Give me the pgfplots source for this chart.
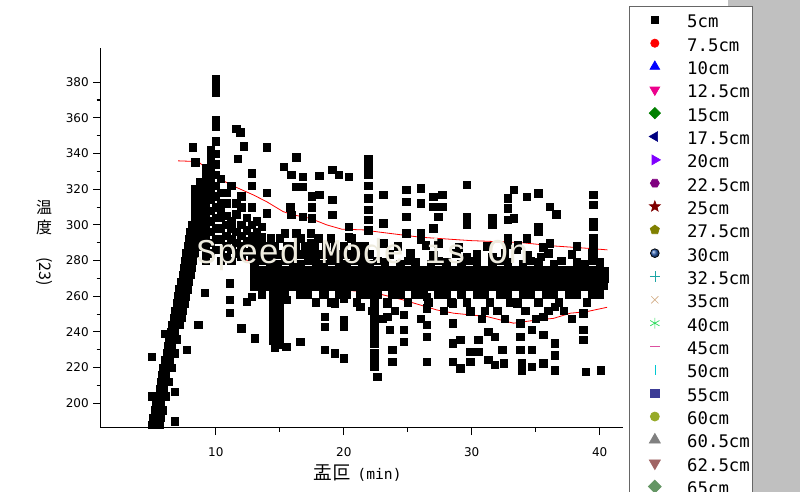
\documentclass[border=0pt]{standalone}
\usepackage{fontspec}
\usepackage{pgfplots}
\pgfplotsset{compat=1.18}
\usetikzlibrary{plotmarks}
\setmainfont{DejaVu Sans}
\newfontfamily\cjk{Noto Sans CJK JP}
\newfontfamily\mono{DejaVu Sans Mono}
\newfontfamily\wmk{Liberation Mono}
\pgfdeclarelayer{background}
\pgfsetlayers{background,main}
\newcommand\ls{\rule[-4pt]{0pt}{17.5pt}}
\definecolor{bggray}{RGB}{192,192,192}
\definecolor{wmcol}{RGB}{238,235,222}
\definecolor{cviolet}{RGB}{128,0,255}
\definecolor{cpurple}{RGB}{128,0,128}
\definecolor{cdred}{RGB}{128,0,0}
\definecolor{colive}{RGB}{128,128,0}
\definecolor{cball}{RGB}{40,90,170}
\definecolor{cteal}{RGB}{30,165,165}
\definecolor{ctan}{RGB}{210,172,132}
\definecolor{clgreen}{RGB}{40,220,90}
\definecolor{cpink}{RGB}{220,80,160}
\definecolor{ccyan}{RGB}{0,200,210}
\definecolor{cslate}{RGB}{60,60,150}
\definecolor{cyg}{RGB}{150,170,40}
\definecolor{cgray}{RGB}{128,128,128}
\definecolor{crosy}{RGB}{160,100,100}
\definecolor{cgg}{RGB}{100,150,100}
\pgfdeclareplotmark{hexagon*}{%
  \pgfpathmoveto{\pgfqpointpolar{0}{\pgfplotmarksize}}%
  \pgfpathlineto{\pgfqpointpolar{60}{\pgfplotmarksize}}%
  \pgfpathlineto{\pgfqpointpolar{120}{\pgfplotmarksize}}%
  \pgfpathlineto{\pgfqpointpolar{180}{\pgfplotmarksize}}%
  \pgfpathlineto{\pgfqpointpolar{240}{\pgfplotmarksize}}%
  \pgfpathlineto{\pgfqpointpolar{300}{\pgfplotmarksize}}%
  \pgfpathclose\pgfusepathqfillstroke}
\pgfdeclareplotmark{fstar}{%
  \pgfpathmoveto{\pgfqpointpolar{90}{\pgfplotmarksize}}%
  \pgfpathlineto{\pgfqpointpolar{126}{0.42\pgfplotmarksize}}%
  \pgfpathlineto{\pgfqpointpolar{162}{\pgfplotmarksize}}%
  \pgfpathlineto{\pgfqpointpolar{198}{0.42\pgfplotmarksize}}%
  \pgfpathlineto{\pgfqpointpolar{234}{\pgfplotmarksize}}%
  \pgfpathlineto{\pgfqpointpolar{270}{0.42\pgfplotmarksize}}%
  \pgfpathlineto{\pgfqpointpolar{306}{\pgfplotmarksize}}%
  \pgfpathlineto{\pgfqpointpolar{342}{0.42\pgfplotmarksize}}%
  \pgfpathlineto{\pgfqpointpolar{18}{\pgfplotmarksize}}%
  \pgfpathlineto{\pgfqpointpolar{54}{0.42\pgfplotmarksize}}%
  \pgfpathclose\pgfusepathqfillstroke}
\begin{document}
\begin{tikzpicture}[x=0.75pt,y=0.75pt]
\begin{axis}[
  width=391.5pt, height=284.55pt, scale only axis,
  xmin=1.0, xmax=41.8, ymin=186.3, ymax=399,
  axis lines*=left,
  axis line style={line width=1.1pt},
  xtick={10,20,30,40}, ytick={200,220,...,380},
  minor x tick num=1, minor y tick num=1,
  tick align=outside,
  major tick length=5.5pt, minor tick length=3pt,
  tick style={black, line width=0.8pt},
  tick label style={font=\fontsize{9}{10}\selectfont},
  /pgf/number format/assume math mode=true,
  xticklabel style={yshift=-6pt},
  xlabel={{\cjk\fontsize{14}{16}\selectfont 盂叵}\hspace{5pt}{\mono\fontsize{11}{12}\selectfont(min)}},
  ylabel={温\\度\\[3pt]\rotatebox{-90}{(23)}},
  every axis x label/.style={at={(axis description cs:0.492,-0.1194)}, anchor=center},
  every axis y label/.style={at={(axis description cs:-0.1086,0.487)}, anchor=center, align=center, font=\cjk\fontsize{12}{15}\selectfont},
  legend style={at={(axis description cs:1.0121,1.1123)}, anchor=north west,
    draw=black!60, line width=0.75pt, fill=white,
    inner xsep=2pt, inner ysep=2.75pt, row sep=2.5pt, column sep=0pt,
    nodes={inner sep=0pt, outer sep=0pt},
    font={\mono\fontsize{13}{15}\selectfont}},
  legend cell align=left,
  legend image code/.code={\path[draw=none,fill=none] (0pt,0pt) -- (41.3pt,0pt); \draw[#1, line width=0.5pt] plot coordinates {(17pt,0pt)};},
]
\coordinate (sw) at (rel axis cs:0,0);
\addplot[only marks, mark=square*, mark size=2.8pt, black] coordinates {
(5.0,188)(5.3,188)(5.6,188)(5.1,192)(5.4,192)(5.7,192)(5.25,196)(5.55,196)(5.85,196)
(5.35,200)(5.65,200)(5.45,204)(5.75,204)(6.05,204)(5.6,208)(5.9,208)
(5.7,212)(6.0,212)(6.3,212)(5.8,216)(6.1,216)(5.9,220)(6.2,220)(6.5,220)
(6.05,224)(6.35,224)(6.15,228)(6.45,228)(6.75,228)(6.25,232)(6.55,232)
(6.35,236)(6.65,236)(6.95,236)(6.5,240)(6.8,240)(6.6,244)(6.9,244)(7.2,244)
(6.7,248)(7.0,248)(7.3,248)(6.8,252)(7.1,252)(7.4,252)(6.95,256)(7.25,256)(7.55,256)
(7.05,260)(7.35,260)(7.65,260)(7.15,264)(7.45,264)(7.75,264)(7.25,268)(7.55,268)(7.85,268)
(7.4,272)(7.7,272)(8.0,272)(7.5,276)(7.8,276)(8.1,276)(7.6,280)(7.9,280)(8.2,280)
(7.7,284)(8.0,284)(8.3,284)(7.8,288)(8.1,288)(8.4,288)(7.9,292)(8.2,292)(8.5,292)
(8.0,296)(8.3,296)(8.6,296)(8.1,300)(8.4,300)(8.7,300)
(4.98,226)(4.98,204)(6.8,190)(6.02,239)(6.02,220.5)(6.8,206.5)(7.72,230)(8.63,244)(9.15,262)
(8.4,304)(8.4,308)(8.4,312)(8.4,316)(8.4,320)
(8.8,288)(8.8,292)(8.8,296)(8.8,300)(8.8,304)(8.8,308)(8.8,312)(8.8,316)(8.8,320)(8.8,324)
(9.2,280)(9.2,284)(9.2,288)(9.2,292)(9.2,296)(9.2,300)(9.2,304)(9.2,308)(9.2,312)(9.2,316)(9.2,320)(9.2,324)(9.2,328)(9.2,332)
(9.6,284)(9.6,290)(9.6,296)(9.6,302)(9.6,308)(9.6,314)(9.6,318)(9.6,322)(9.6,326)(9.6,330)(9.6,334)(9.6,338)(9.6,342)
(10.0,286)(10.0,292)(10.0,298)(10.0,304)(10.0,310)(10.0,316)(10.0,322)(10.0,328)(10.0,334)(10.0,340)(10.0,347)(10.0,355)(10.0,359)(10.0,374)(10.0,378)(10.0,382)
(10.4,280)(10.4,286)(10.4,292)(10.4,298)(10.4,304)(10.4,308)(10.4,312)(10.4,318)(10.4,326)
(10.8,282)(10.8,288)(10.8,294)(10.8,300)(10.8,305)(10.8,312)(10.8,318)
(11.2,280)(11.2,286)(11.2,292)(11.2,298)(11.2,302)(11.2,322)
(11.6,284)(11.6,290)(11.6,296)(11.6,306)(11.6,312)
(12.0,282)(12.0,288)(12.0,294)(12.0,300)(12.0,310)(12.0,316)
(12.4,285)(12.4,291)(12.4,297)(12.4,304)
(12.8,282)(12.8,288)(12.8,294)(12.8,300)(12.8,310)
(13.2,284)(13.2,290)(13.2,296)(13.2,302)
(13.6,281)(13.6,287)(13.6,293)(13.6,299)
(8.2,343.5)(8.4,335)(11.6,354)(11.9,352)(12.2,344)(11.7,337)(12.8,329)(12.8,322)(14.0,343.5)(14.0,318)(14.0,306.5)
(16.3,338)(15.3,332.7)(15.9,328)(16.8,327)(16.8,321.5)(16.3,321.5)(18.1,327.5)(17.5,316)(18.1,317)(17.5,310)
(19.1,331)(19.6,328)(20.4,327)(19.1,314)(19.1,305.6)(20.4,299)(20.4,293.4)
(21.9,337)(21.9,332.7)(21.9,328)(21.9,322)(21.9,315)(21.9,308.4)(21.9,302.8)(21.9,297)
(15.8,310)(15.9,305.6)(16.8,304.6)(17.5,303.7)(15.4,295.3)(16.3,295.3)(17.4,295.3)(17.4,289.7)
(13.0,283.5)(13.6,283.5)(14.2,283.5)(14.8,283.5)(15.4,283.5)(16.0,283.5)(16.6,283.5)(17.2,283.5)(17.8,283.5)(18.4,283.5)(19.0,283.5)(19.6,283.5)(20.2,283.5)(20.8,283.5)(21.4,283.5)(22.0,283.5)
(23.6,283.5)(25.2,284)(27.0,283)(28.8,284)(30.4,283.5)(32.6,284)(34.4,283)(36.0,284)(37.8,283.5)(39.4,284)
(13.3,288)(14.0,288)(14.6,288)(15.6,288)(16.2,288)(17.0,288)(17.7,288)(18.6,288)(19.3,288)(20.0,288)(20.9,288)(21.6,288)
(24.2,288)(26.4,288.5)(29.0,287.5)(31.2,288)(33.6,288.5)(35.6,287.5)(38.2,288)
(13.0,292.5)(14.3,292.5)(15.0,292.5)(16.6,292.5)(18.0,292.5)(19.0,292.5)(20.6,292.5)
(13.0,279)(13.6,280)(14.2,279)(14.8,278)(15.4,280)(16.0,279)(16.6,278)(17.2,280)(17.8,279)(18.4,278)(19.0,280)(19.6,279)(20.2,278)(20.8,280)(21.4,279)(22.0,278)(22.6,280)(23.2,279)(24.4,278)(25.0,280)(25.6,279)(26.8,278)(27.4,280)(28.0,279)(29.2,278)(29.8,280)(30.4,279)(31.6,278)(32.2,280)(32.8,279)(34.0,278)(34.6,280)(35.2,279)(36.4,278)(37.0,280)(38.2,279)(38.8,278)(39.4,280)(40.0,279)
(13.0,274.5)(13.6,274.5)(14.2,274.5)(14.8,274.5)(15.4,274.5)(16.0,274.5)(16.6,274.5)(17.2,274.5)(17.8,274.5)(18.4,274.5)(19.0,274.5)(19.6,274.5)(20.2,274.5)(20.8,274.5)(21.4,274.5)(22.0,274.5)(22.6,274.5)(23.2,274.5)(23.8,274.5)(24.4,274.5)(25.0,274.5)(25.6,274.5)(26.2,274.5)(26.8,274.5)(27.4,274.5)(28.0,274.5)(28.6,274.5)(29.2,274.5)(29.8,274.5)(30.4,274.5)(31.0,274.5)(31.6,274.5)(32.2,274.5)(32.8,274.5)(33.4,274.5)(34.0,274.5)(34.6,274.5)(35.2,274.5)(35.8,274.5)(36.4,274.5)(37.0,274.5)(37.6,274.5)(38.2,274.5)(38.8,274.5)(39.4,274.5)(40.0,274.5)(40.4,274)
(13.0,270)(13.6,270)(14.2,270)(14.8,270)(15.4,270)(16.0,270)(16.6,270)(17.2,270)(17.8,270)(18.4,270)(19.0,270)(19.6,270)(20.2,270)(20.8,270)(21.4,270)(22.0,270)(22.6,270)(23.2,270)(23.8,270)(24.4,270)(25.0,270)(25.6,270)(26.2,270)(26.8,270)(27.4,270)(28.0,270)(28.6,270)(29.2,270)(29.8,270)(30.4,270)(31.0,270)(31.6,270)(32.2,270)(32.8,270)(33.4,270)(34.0,270)(34.6,270)(35.2,270)(35.8,270)(36.4,270)(37.0,270)(37.6,270)(38.2,270)(38.8,270)(39.4,270)(40.0,270)(40.4,270)
(13.0,265.5)(13.6,265.5)(14.2,265.5)(14.8,265.5)(15.4,265.5)(16.0,265.5)(16.6,265.5)(17.2,265.5)(17.8,265.5)(18.4,265.5)(19.0,265.5)(19.6,265.5)(20.2,265.5)(20.8,265.5)(21.4,265.5)(22.0,265.5)(22.6,265.5)(23.2,265.5)(23.8,265.5)(24.4,265.5)(25.0,265.5)(25.6,265.5)(26.2,265.5)(26.8,265.5)(27.4,265.5)(28.0,265.5)(28.6,265.5)(29.2,265.5)(29.8,265.5)(30.4,265.5)(31.0,265.5)(31.6,265.5)(32.2,265.5)(32.8,265.5)(33.4,265.5)(34.0,265.5)(34.6,265.5)(35.2,265.5)(35.8,265.5)(36.4,265.5)(37.0,265.5)(37.6,265.5)(38.2,265.5)(38.8,265.5)(39.4,265.5)(40.0,265.5)(40.3,266)
(13.6,261)(14.8,261)(15.4,261)(16.6,261)(17.2,261)(18.4,261)(19.6,261)(20.2,261)(21.4,261)(22.0,261)(22.6,261)(23.8,261)(24.4,261)(25.6,261)(26.2,261)(27.4,261)(28.0,261)(29.2,261)(30.4,261)(31.0,261)(32.2,261)(32.8,261)(34.0,261)(34.6,261)(35.8,261)(36.4,261)(37.6,261)(38.2,261)(39.4,261)(40.0,261)
(15.0,256.5)(17.8,256.5)(19.0,256.5)(21.0,256.5)(22.4,256.5)(23.4,256.5)(25.0,256.5)(26.6,256.5)(28.4,256.5)(29.6,256.5)(31.4,256.5)(33.0,256.5)(33.6,256.5)(35.2,256.5)(36.8,256.5)(39.0,256.5)
(22.2,252)(24.0,252)(27.8,252)(29.9,252)(31.0,252)(32.0,252)(34.2,252)(36.0,252)(37.2,252)
(23.0,247.5)(26.0,247.5)(30.8,247.5)(32.6,247.5)(35.0,247.5)(37.8,247.5)
(11.1,267.3)(11.1,257.9)(11.1,250.6)(12.0,242)(13.06,236.4)(12.4,257)(12.8,259.8)(15.5,231.7)(16.6,234.5)(15.5,258)(16.6,263.5)
(18.5,261.7)(18.5,248.6)(18.5,243)(19.3,256)(20,258.9)(20,246.7)(20,243)(18.5,230)(19.3,228)(20,225.2)(21.3,254.2)(21.3,261.7)
(14.5,262)(14.5,257.5)(14.5,253)(14.5,248.5)(14.5,244)(14.5,239.5)(14.5,235)(14.6,231)(15.0,260)(15.0,255.5)(15.0,251)(15.0,246.5)(15.0,242)(15.0,237.5)(15.0,233)
(22.4,257.9)(22.4,253)(22.4,248.6)(22.4,244)(22.4,241.1)(22.4,237)(22.4,233.6)(22.4,228)(22.4,224)(22.4,220.5)(22.6,214.9)
(23.4,256)(23.4,248.6)(23.6,241.1)(24.7,249.5)(24.7,241.1)(24.7,234.5)(23.8,229.9)(23.8,223.3)(26.5,259.8)(26.5,253.3)(26.5,243.9)(26.5,237.4)(26.5,223.3)
(28.5,256)(28.5,244.8)(28.5,233.6)(28.5,223.3)(29.1,235.5)(29.1,219.6)(29.9,251.3)(29.9,228.9)(29.9,223.3)(30.5,235.5)(30.5,228.9)
(31.3,240.1)(31.8,237.3)(31.3,224.3)(31.8,221.5)(32.4,229.9)(32.5,222.4)(33.5,256)(33.8,244.8)(33.8,237.4)(33.8,229.9)(33.9,222.4)(33.9,218.6)
(34.7,241.1)(34.7,229.9)(34.7,220.5)(35.6,248.6)(35.6,238.3)(35.6,222.4)(36.5,254.2)(36.5,233.6)(36.5,227)(36.5,218.6)
(38.7,250.5)(38.7,241.1)(38.7,235.5)(38.9,217.7)(40.1,218.6)
(23.1,316.8)(23.1,300.9)(23.1,289.7)(24.9,319.6)(24.9,313)(26,320.6)(26,312.1)(24.9,304.6)(24.9,295.3)(26,295.3)(26,291.6)
(27,315.8)(27,310.2)(27.7,316.8)(27.7,310.2)(27.4,304.6)(27,298.1)(29.6,322.4)(29.6,304.6)(29.6,300)(29.6,282.2)(27.4,289.7)
(31.6,303.7)(31.6,300)(31.6,282.2)(33.3,319.6)(32.8,315)(32.8,309.3)(33.3,303.7)(32.8,302.8)(34.3,315.8)(35.2,317.8)(36.1,310.2)(36.6,306)
(35.2,299)(35.2,296.2)(34.3,292.5)(36.1,289.7)(32.8,292.5)(32.8,288.8)(35.4,282.2)(33.5,286)
(39.5,316.8)(39.5,311.2)(39.5,301.8)(39.5,299)(39.5,292.5)(39.5,288.8)(39.5,286)(39.5,282.2)
};
\addlegendentry{\ls 5cm}
\addplot[red, line width=0.6pt, forget plot] coordinates {
(7.06,335.9)(8.62,335.5)(9.54,329.9)(10.06,326.7)(11.36,321.8)(12.93,316.8)(13.97,313)(15.27,307.4)(16.06,305.6)(17.36,303.7)(18.67,300)(19.84,297.6)(21.53,297.2)(22.84,295.9)(25.97,293.1)(29.88,291.2)(33.8,290.1)(36.4,288.2)(39.0,286.9)(40.6,286)
};
\addplot[red, line width=0.6pt, forget plot] coordinates {
(10.7,286.5)(11.1,285)(12.4,280.3)(13.45,273.8)(14.5,270.1)(15.27,268.2)(16.84,266.9)(18.93,265.4)(20.49,263.1)(22.06,262.6)(24.66,257.9)(27.28,252.3)(28.58,250.5)(31.19,248.6)(33.27,244.9)(35.1,246.7)(36.4,247.6)(37.71,250.5)(39.01,251.4)(40.58,253.8)
};
\addlegendimage{only marks, mark=*, mark size=3.1pt, red}
\addlegendentry{\ls 7.5cm}
\addlegendimage{only marks, mark=triangle*, mark size=4.2pt, blue}
\addlegendentry{\ls 10cm}
\addlegendimage{only marks, mark=triangle*, mark size=4.2pt, mark options={rotate=180}, magenta}
\addlegendentry{\ls 12.5cm}
\addlegendimage{only marks, mark=square*, mark size=3pt, mark options={rotate=45}, green!50!black}
\addlegendentry{\ls 15cm}
\addlegendimage{only marks, mark=triangle*, mark size=4.2pt, mark options={rotate=90}, blue!50!black}
\addlegendentry{\ls 17.5cm}
\addlegendimage{only marks, mark=triangle*, mark size=4.2pt, mark options={rotate=-90}, cviolet}
\addlegendentry{\ls 20cm}
\addlegendimage{only marks, mark=hexagon*, mark size=3.4pt, cpurple}
\addlegendentry{\ls 22.5cm}
\addlegendimage{only marks, mark=fstar, mark size=4.2pt, cdred}
\addlegendentry{\ls 25cm}
\addlegendimage{only marks, mark=pentagon*, mark size=3.6pt, colive}
\addlegendentry{\ls 27.5cm}
\addlegendimage{only marks, mark=ball, mark size=3.3pt, ball color=cball}
\addlegendentry{\ls 30cm}
\addlegendimage{only marks, mark=+, mark size=3.8pt, cteal}
\addlegendentry{\ls 32.5cm}
\addlegendimage{only marks, mark=x, mark size=3.8pt, ctan}
\addlegendentry{\ls 35cm}
\addlegendimage{only marks, mark=asterisk, mark size=4pt, clgreen}
\addlegendentry{\ls 40cm}
\addlegendimage{only marks, mark=-, mark size=3.5pt, cpink}
\addlegendentry{\ls 45cm}
\addlegendimage{only marks, mark=|, mark size=3.5pt, ccyan}
\addlegendentry{\ls 50cm}
\addlegendimage{only marks, mark=square*, mark size=3.2pt, cslate}
\addlegendentry{\ls 55cm}
\addlegendimage{only marks, mark=*, mark size=3.4pt, cyg}
\addlegendentry{\ls 60cm}
\addlegendimage{only marks, mark=triangle*, mark size=4.8pt, cgray}
\addlegendentry{\ls 60.5cm}
\addlegendimage{only marks, mark=triangle*, mark size=4.8pt, mark options={rotate=180}, crosy}
\addlegendentry{\ls 62.5cm}
\addlegendimage{only marks, mark=square*, mark size=3.4pt, mark options={rotate=45}, cgg}
\addlegendentry{\ls 65cm}
\end{axis}
\node[anchor=base, text=wmcol, font=\wmk\fontsize{26}{26}\selectfont, inner sep=0pt] at ([shift={(261.8,164.4)}]sw) {Speed Mode is On};
\begin{pgfonlayer}{background}
\fill[white] ([shift={(-100.7,-64.3)}]sw) rectangle ([shift={(699.3,427.7)}]sw);
\fill[bggray] ([shift={(627.6,-64.3)}]sw) rectangle ([shift={(699.3,427.7)}]sw);
\end{pgfonlayer}
\pgfresetboundingbox
\path[use as bounding box] ([shift={(-100.7,-64.3)}]sw) rectangle ([shift={(699.3,427.7)}]sw);
\end{tikzpicture}
\end{document}
